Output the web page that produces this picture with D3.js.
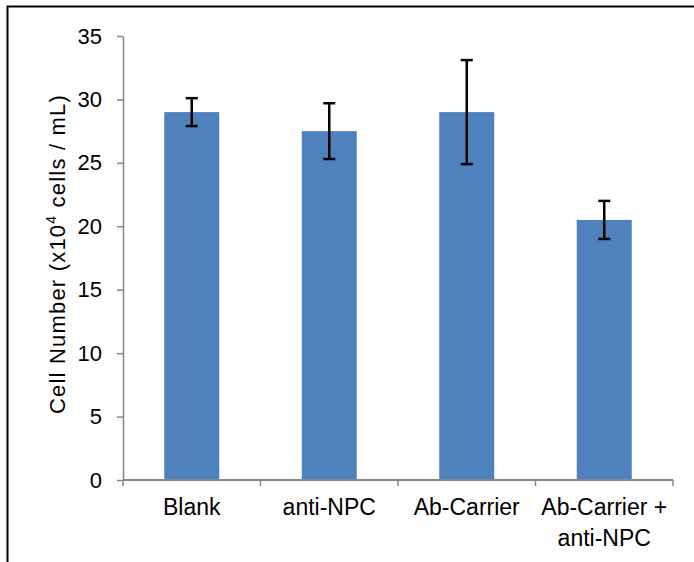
<!DOCTYPE html>
<html><head><meta charset="utf-8">
<script src="https://cdn.jsdelivr.net/npm/d3@7"></script>
<style>body{margin:0;background:#fff}svg{display:block}</style>
</head><body>
<script>
const categories = ["Blank", "anti-NPC", "Ab-Carrier", "Ab-Carrier + anti-NPC"];
const categoryLines = [["Blank"], ["anti-NPC"], ["Ab-Carrier"], ["Ab-Carrier +", "anti-NPC"]];
const values = [29, 27.5, 29, 20.5];
const errUpper = [30.1, 29.7, 33.1, 22.0];
const errLower = [27.9, 25.3, 24.9, 19.0];
const yTicks = [0, 5, 10, 15, 20, 25, 30, 35];

const W = 694, H = 562;
const svg = d3.select("body").append("svg").attr("width", W).attr("height", H);
const font = "'Liberation Sans', Arial, sans-serif";

// frame
svg.append("path").attr("d", `M7.5,${H} V6.5 H${W}`).attr("fill", "none").attr("stroke", "#000").attr("stroke-width", 2);

const pLeft = 123, pRight = 673, pTop = 36, pBottom = 480;
const x = d3.scaleBand().domain(categories).range([pLeft, pRight]).paddingInner(0.6).paddingOuter(0.3);
const xb = d3.scaleBand().domain(categories).range([pLeft, pRight]);
const y = d3.scaleLinear().domain([0, 35]).range([pBottom, pTop]);

const grey = "#868686";
// y axis
const ya = svg.append("g").attr("transform", `translate(${pLeft},0)`)
  .call(d3.axisLeft(y).tickValues(yTicks).tickSize(6).tickSizeOuter(0));
ya.select(".domain").attr("stroke", grey).attr("stroke-width", 1.5);
ya.selectAll(".tick line").attr("stroke", grey).attr("stroke-width", 1.5);
ya.selectAll(".tick text").attr("font-family", font).attr("font-size", 22).attr("fill", "#000").attr("x", -21);

// bars
svg.selectAll("rect.bar").data(categories).join("rect").attr("class", "bar")
  .attr("x", d => x(d)).attr("width", x.bandwidth())
  .attr("y", (d, i) => y(values[i])).attr("height", (d, i) => pBottom - y(values[i]))
  .attr("fill", "#4F81BD");

// x axis
const xa = svg.append("g").attr("transform", `translate(0,${pBottom})`);
xa.append("line").attr("x1", pLeft).attr("x2", pRight).attr("stroke", grey).attr("stroke-width", 2);
const bounds = categories.map(c => xb(c)).concat([pRight]);
xa.selectAll("line.tk").data(bounds).join("line").attr("class", "tk")
  .attr("x1", d => d).attr("x2", d => d).attr("y1", 0).attr("y2", 6)
  .attr("stroke", grey).attr("stroke-width", 1.5);
categories.forEach((c, i) => {
  const t = svg.append("text").attr("font-family", font).attr("font-size", 23).attr("text-anchor", "middle");
  categoryLines[i].forEach((ln, j) => {
    t.append("tspan").attr("x", xb(c) + xb.bandwidth() / 2).attr("y", 515 + j * 31).text(ln);
  });
});

// error bars
const eb = svg.append("g").attr("stroke", "#000").attr("stroke-width", 2.5);
categories.forEach((c, i) => {
  const cx = x(c) + x.bandwidth() / 2;
  eb.append("line").attr("x1", cx).attr("x2", cx).attr("y1", y(errUpper[i])).attr("y2", y(errLower[i]));
  [errUpper[i], errLower[i]].forEach(v => {
    eb.append("line").attr("x1", cx - 6).attr("x2", cx + 6).attr("y1", y(v)).attr("y2", y(v));
  });
});

// y label
const lab = svg.append("text").attr("font-family", font).attr("font-size", 22).attr("letter-spacing", 1.2)
  .attr("text-anchor", "middle")
  .attr("transform", `translate(65,254) rotate(-90)`);
lab.append("tspan").text("Cell Number (x10");
lab.append("tspan").attr("font-size", 14).attr("dy", -9).text("4");
lab.append("tspan").attr("dy", 9).text(" cells / mL)");
</script>
</body></html>
